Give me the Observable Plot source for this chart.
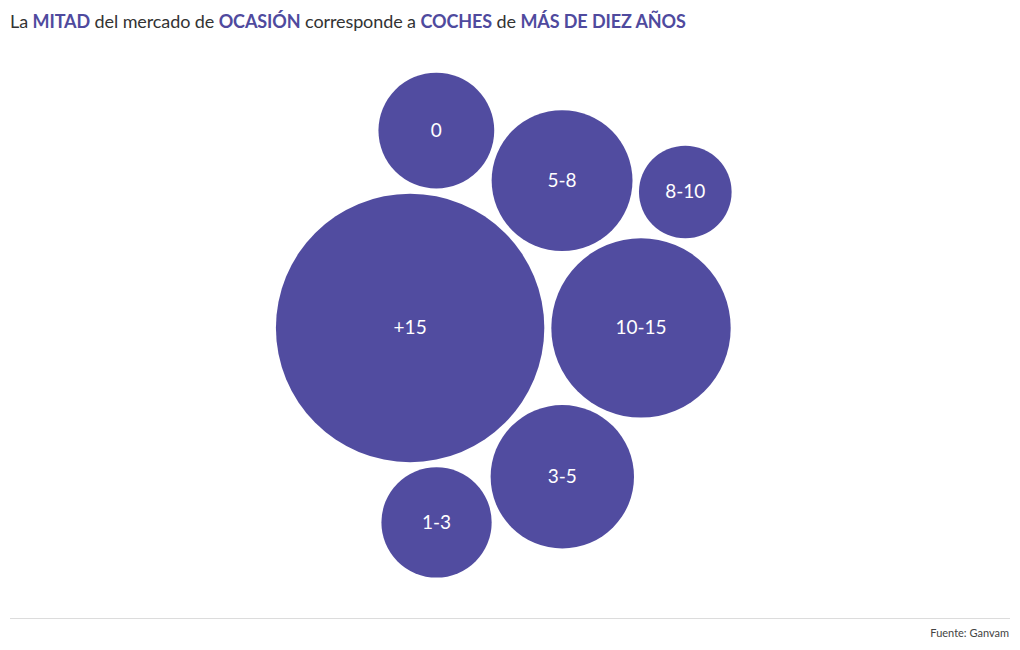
<!DOCTYPE html>
<html>
<head>
<meta charset="utf-8">
<script src="https://cdn.jsdelivr.net/npm/d3@7"></script>
<script src="https://cdn.jsdelivr.net/npm/@observablehq/plot@0.6"></script>
<style>
  html, body { margin: 0; padding: 0; background: #fff; }
  body { width: 1020px; height: 650px; position: relative; font-family: Lato, "Open Sans", sans-serif; overflow: hidden; }
  #title { position: absolute; left: 10px; top: 10px; font-size: 18px; color: #333; white-space: nowrap; letter-spacing: -0.1px; }
  #title b { color: #4f4a9e; font-weight: 700; }
  #chart { position: absolute; left: 0; top: 42px; }
  #rule { position: absolute; left: 10px; right: 10px; top: 618px; border-top: 1px solid #dcdcdc; }
  #source { position: absolute; right: 11px; top: 626px; font-size: 11px; color: #444; }
</style>
</head>
<body>
<div id="title">La <b>MITAD</b> del mercado de <b>OCASIÓN</b> corresponde a <b>COCHES</b> de <b>MÁS DE DIEZ AÑOS</b></div>
<div id="chart"></div>
<div id="rule"></div>
<div id="source">Fuente: Ganvam</div>
<script>
// Antigüedad de los coches de ocasión (años) y cuota de mercado estimada (%)
const ages = ["+15", "10-15", "3-5", "5-8", "0", "1-3", "8-10"];
const shares = [40.3, 18.0, 11.5, 11.1, 7.5, 6.8, 4.8];

const W = 1020, H = 565;
const maxR = 134.2, pad = 3.5;
const rScale = d3.scaleSqrt().domain([0, d3.max(shares)]).range([0, maxR]);

const nodes = ages.map((a, i) => ({label: a, value: shares[i]}))
  .sort((a, b) => b.value - a.value)
  .map(d => ({...d, r: rScale(d.value) + pad}));
d3.packSiblings(nodes);
const enc = d3.packEnclose(nodes);

const plot = Plot.plot({
  width: W,
  height: H,
  margin: 0,
  x: {domain: [enc.x - W / 2, enc.x + W / 2], range: [0, W], axis: null},
  y: {domain: [enc.y - H / 2, enc.y + H / 2], range: [0, H], axis: null},
  r: {type: "sqrt", domain: [0, d3.max(shares)], range: [0, maxR]},
  marks: [
    Plot.dot(nodes, {x: "x", y: "y", r: "value", fill: "#514ca0", stroke: null}),
    Plot.text(nodes, {x: "x", y: "y", text: "label", fill: "white", fontSize: 19, fontFamily: "Lato, sans-serif"})
  ]
});
document.getElementById("chart").appendChild(plot);
</script>
</body>
</html>
